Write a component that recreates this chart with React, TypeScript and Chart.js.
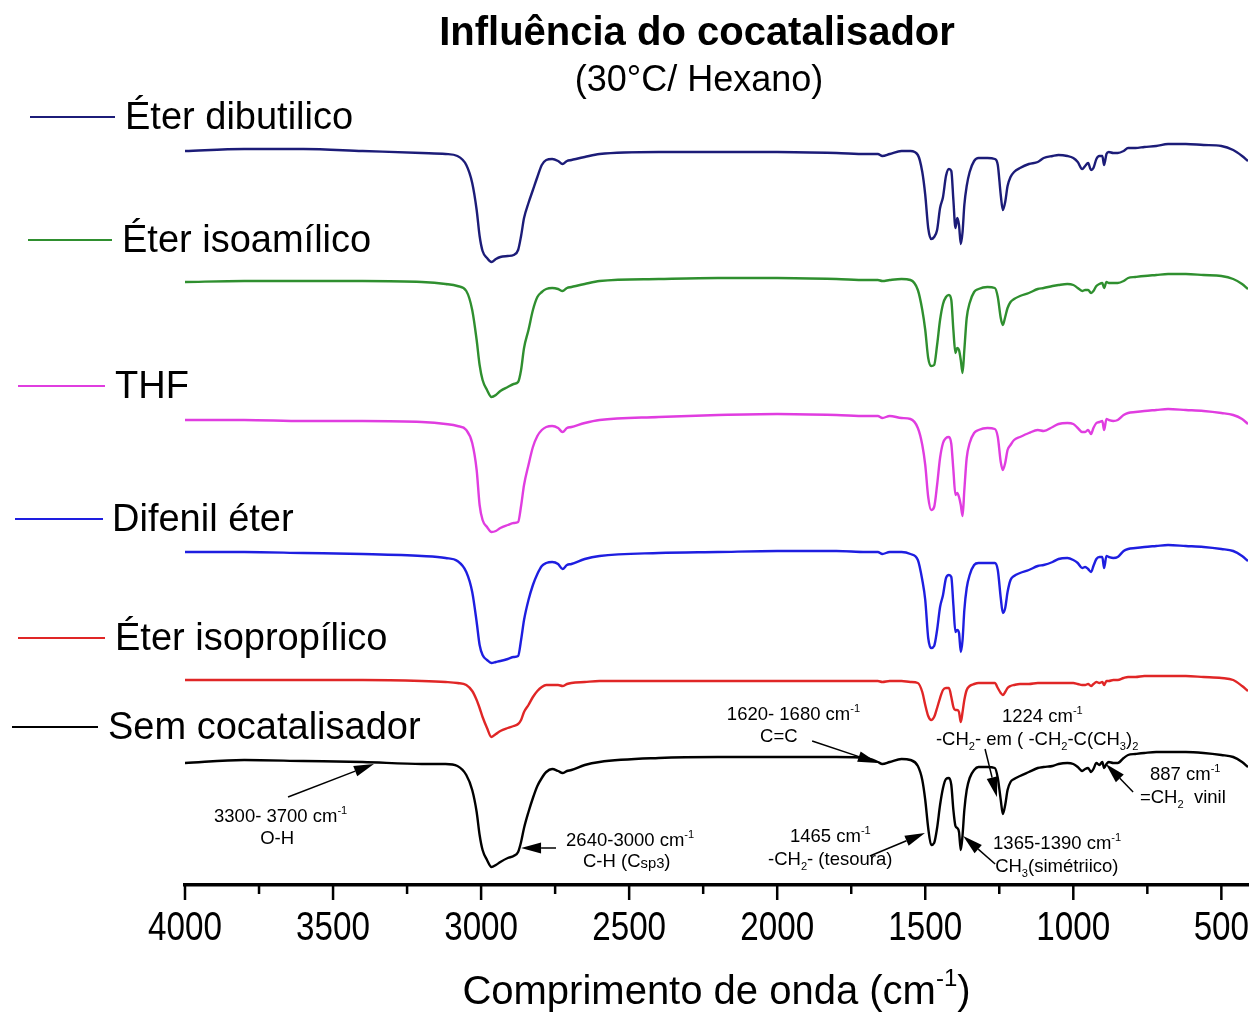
import { useEffect, useRef } from 'react';
import { Chart, registerables } from 'chart.js';

Chart.register(...registerables);

const TITLE = 'Influência do cocatalisador';
const SUBTITLE = '(30°C/ Hexano)';
const X_TITLE = 'Comprimento de onda (cm^{-1})';

const X_MIN = 410;
const X_MAX = 4000;
const X_STEP = 250;
const X_LABEL_STEP = 500;

// wavenumbers (cm-1)
const WAVENUMBERS = [
  4000, 3800, 3600, 3400, 3200, 3120, 3080, 3050, 3030, 3015, 3005, 2995, 2980, 2965, 2950, 2935, 2910, 2890, 2875, 2865,
  2855, 2840, 2825, 2810, 2795, 2780, 2760, 2740, 2725, 2710, 2695, 2650, 2600, 2400, 2200, 2000, 1800, 1700, 1660, 1645,
  1620, 1580, 1550, 1525, 1510, 1500, 1490, 1480, 1470, 1460, 1450, 1440, 1430, 1420, 1412, 1405, 1398, 1392, 1386, 1380,
  1374, 1368, 1360, 1350, 1335, 1320, 1290, 1265, 1255, 1245, 1238, 1230, 1222, 1212, 1200, 1180, 1150, 1120, 1100, 1070,
  1050, 1020, 1000, 985, 970, 960, 950, 940, 932, 922, 912, 902, 896, 888, 880, 865, 850, 830, 815, 790,
  760, 720, 680, 620, 560, 500, 460, 430, 410,
];

// stacked transmittance (a.u., offset per trace)
const ETER_DIBUTILICO = [
  734, 736, 736, 734, 732, 731, 729, 720, 702, 675, 649, 634, 627, 623, 626, 628, 629, 630, 635, 649,
  667, 682, 695, 708, 720, 725, 726, 724, 721, 724, 725, 728, 731, 733, 733, 733, 732, 731, 731, 729,
  731, 734, 734, 730, 713, 690, 657, 646, 648, 655, 677, 688, 709, 716, 714, 685, 657, 667, 660, 641,
  653, 680, 699, 713, 724, 727, 727, 726, 720, 690, 675, 683, 699, 708, 713, 717, 721, 723, 727, 729,
  730, 729, 727, 723, 716, 719, 722, 715, 717, 726, 729, 729, 720, 731, 733, 732, 732, 734, 737, 737,
  738, 739, 741, 741, 740, 739, 735, 729, 724,
];

const ETER_ISOAMILICO = [
  603, 604, 604, 604, 603, 601, 599, 594, 575, 545, 520, 505, 495, 488, 490, 494, 498, 501, 503, 515,
  537, 555, 575, 588, 593, 596, 597, 596, 594, 597, 598, 601, 604, 606, 607, 607, 606, 605, 605, 604,
  605, 606, 605, 595, 575, 555, 527, 519, 520, 540, 565, 581, 588, 590, 585, 555, 532, 537, 535, 525,
  512, 535, 567, 582, 593, 596, 598, 597, 588, 567, 560, 568, 577, 583, 586, 589, 592, 596, 597, 599,
  600, 601, 600, 597, 594, 595, 595, 592, 594, 599, 601, 602, 597, 603, 602, 602, 602, 604, 607, 608,
  609, 610, 611, 611, 610, 609, 606, 601, 596,
];

const THF = [
  465, 465, 464, 464, 463, 461, 459, 455, 442, 415, 380, 365, 358, 353, 354, 357, 360, 362, 363, 379,
  400, 420, 438, 449, 455, 458, 459, 457, 453, 457, 458, 462, 465, 468, 470, 471, 470, 469, 469, 467,
  469, 467, 466, 457, 440, 420, 388, 375, 378, 400, 427, 442, 447, 448, 441, 415, 390, 392, 388, 380,
  369, 395, 427, 442, 452, 455, 457, 456, 448, 423, 415, 422, 435, 440, 445, 448, 452, 455, 454, 458,
  461, 462, 461, 457, 453, 453, 455, 451, 457, 462, 463, 464, 455, 466, 465, 464, 465, 470, 472, 473,
  474, 475, 476, 475, 474, 472, 470, 466, 461,
];

const DIFENIL_ETER = [
  333, 333, 332, 331, 329, 327, 324, 313, 293, 263, 240, 230, 225, 222, 223, 224, 226, 228, 229, 245,
  265, 285, 300, 311, 319, 322, 323, 321, 316, 320, 321, 326, 329, 332, 333, 334, 334, 333, 333, 331,
  333, 333, 331, 325, 305, 285, 247, 237, 239, 255, 278, 290, 307, 310, 308, 280, 253, 255, 252, 233,
  245, 275, 297, 310, 320, 322, 322, 322, 315, 287, 272, 277, 293, 305, 309, 312, 315, 319, 320, 323,
  326, 327, 325, 322, 317, 318, 316, 313, 319, 326, 328, 328, 317, 329, 328, 327, 328, 334, 336, 337,
  338, 339, 340, 339, 338, 336, 334, 329, 324,
];

const ETER_ISOPROPILICO = [
  205, 205, 205, 205, 204, 203, 202, 200, 194, 185, 177, 168, 157, 148, 151, 154, 157, 159, 161, 165,
  173, 180, 188, 194, 198, 200, 200, 200, 199, 201, 202, 203, 204, 204, 204, 204, 204, 204, 204, 203,
  204, 204, 203, 202, 193, 180, 169, 165, 168, 177, 187, 195, 197, 197, 188, 178, 175, 175, 173, 163,
  173, 185, 195, 199, 201, 202, 202, 202, 197, 192, 190, 193, 197, 199, 200, 201, 201, 202, 202, 202,
  202, 202, 202, 201, 200, 200, 201, 199, 201, 203, 202, 203, 200, 204, 204, 205, 205, 207, 208, 208,
  209, 209, 209, 209, 208, 207, 205, 199, 194,
];

const SEM_COCATALISADOR = [
  122, 125, 124, 123, 121, 121, 119, 110, 95, 73, 50, 35, 25, 18, 20, 23, 27, 29, 33, 43,
  57, 73, 87, 99, 107, 113, 116, 114, 112, 114, 115, 120, 123, 127, 128, 128, 128, 127, 123, 121,
  123, 126, 125, 119, 105, 85, 57, 40, 42, 57, 80, 97, 106, 107, 100, 75, 59, 57, 53, 35,
  50, 75, 95, 107, 115, 118, 118, 117, 107, 85, 71, 80, 95, 103, 106, 109, 113, 117, 118, 119,
  121, 122, 121, 118, 114, 116, 117, 113, 116, 122, 120, 123, 117, 121, 123, 122, 122, 127, 130, 131,
  132, 133, 133, 133, 132, 130, 128, 123, 118,
];

const SERIES_LABELS = ['Éter dibutilico', 'Éter isoamílico', 'THF', 'Difenil éter', 'Éter isopropílico', 'Sem cocatalisador'];
const SERIES_VALUES = [ETER_DIBUTILICO, ETER_ISOAMILICO, THF, DIFENIL_ETER, ETER_ISOPROPILICO, SEM_COCATALISADOR];
const SERIES_COLORS = ['#1c1c78', '#2f8f2f', '#e03de0', '#1e1ee0', '#e02626', '#000000'];

// left-side labels (canvas px): line x0, x1, y, text x
const LABEL_LAYOUT = [
  [30, 115, 117, 125],
  [28, 112, 240, 122],
  [18, 105, 386, 115],
  [15, 103, 519, 112],
  [18, 105, 638, 115],
  [12, 98, 727, 108],
];

// annotations in data coordinates (wavenumber, a.u.)
const NOTE_TEXTS: [string, number, number, CanvasTextAlign][] = [
  ['3300- 3700 cm^{-1}', 3902, 63, 'left'],
  ['O-H', 3689, 41, 'center'],
  ['2640-3000 cm^{-1}', 2713, 39, 'left'],
  ['C-H (C~{sp3})', 2656, 18, 'left'],
  ['1620- 1680 cm^{-1}', 2170, 165, 'left'],
  ['C=C', 2058, 143, 'left'],
  ['1224 cm^{-1}', 1241, 163, 'left'],
  ['-CH_{2}- em ( -CH_{2}-C(CH_{3})_{2}', 1464, 140, 'left'],
  ['887 cm^{-1}', 741, 105, 'left'],
  ['=CH_{2}  vinil', 775, 82, 'left'],
  ['1465 cm^{-1}', 1957, 43, 'left'],
  ['-CH_{2}- (tesoura)', 2031, 20, 'left'],
  ['1365-1390 cm^{-1}', 1271, 36, 'left'],
  ['CH_{3}(simétriico)', 1264, 13, 'left'],
];

const NOTE_ARROWS = [
  [3652, 88, 3362, 121],
  [2747, 37, 2865, 37],
  [1882, 144, 1660, 122],
  [1298, 136, 1258, 88],
  [798, 93, 890, 121],
  [1687, 29, 1501, 52],
  [1264, 21, 1372, 49],
];

const FONT = '"Liberation Sans", Arial, Helvetica, sans-serif';

type Part = { t: string; k: 'n' | 'sup' | 'sub' | 'small' };

function parseRich(s: string): Part[] {
  const parts: Part[] = [];
  const re = /(\^\{([^}]*)\}|_\{([^}]*)\}|~\{([^}]*)\})/g;
  let last = 0;
  let m: RegExpExecArray | null;
  while ((m = re.exec(s))) {
    if (m.index > last) parts.push({ t: s.slice(last, m.index), k: 'n' });
    if (m[2] !== undefined) parts.push({ t: m[2], k: 'sup' });
    else if (m[3] !== undefined) parts.push({ t: m[3], k: 'sub' });
    else parts.push({ t: m[4], k: 'small' });
    last = re.lastIndex;
  }
  if (last < s.length) parts.push({ t: s.slice(last), k: 'n' });
  return parts;
}

function drawRich(ctx: CanvasRenderingContext2D, s: string, x: number, y: number, size: number, align: CanvasTextAlign, weight = 'normal') {
  const parts = parseRich(s);
  const fontFor = (k: string) => {
    const sz = k === 'n' ? size : k === 'small' ? size * 0.8 : size * 0.6;
    return `${weight} ${sz}px ${FONT}`;
  };
  let total = 0;
  for (const p of parts) {
    ctx.font = fontFor(p.k);
    total += ctx.measureText(p.t).width;
  }
  let cx = align === 'center' ? x - total / 2 : align === 'right' ? x - total : x;
  ctx.textAlign = 'left';
  ctx.textBaseline = 'alphabetic';
  for (const p of parts) {
    ctx.font = fontFor(p.k);
    const dy = p.k === 'sup' ? -size * 0.45 : p.k === 'sub' ? size * 0.25 : p.k === 'small' ? size * 0.08 : 0;
    ctx.fillText(p.t, cx, y + dy);
    cx += ctx.measureText(p.t).width;
  }
}

function drawArrow(ctx: CanvasRenderingContext2D, x1: number, y1: number, x2: number, y2: number) {
  const ang = Math.atan2(y2 - y1, x2 - x1);
  const L = 20;
  const W = 5.5;
  const bx = x2 - L * Math.cos(ang);
  const by = y2 - L * Math.sin(ang);
  ctx.beginPath();
  ctx.moveTo(x1, y1);
  ctx.lineTo(bx, by);
  ctx.stroke();
  ctx.beginPath();
  ctx.moveTo(x2, y2);
  ctx.lineTo(bx + W * Math.sin(ang), by - W * Math.cos(ang));
  ctx.lineTo(bx - W * Math.sin(ang), by + W * Math.cos(ang));
  ctx.closePath();
  ctx.fill();
}

const decorPlugin = {
  id: 'decor',
  afterDraw(chart: any) {
    const ctx: CanvasRenderingContext2D = chart.ctx;
    const xs = chart.scales.x;
    const ys = chart.scales.y;
    const area = chart.chartArea;
    ctx.save();
    ctx.fillStyle = '#000';
    ctx.strokeStyle = '#000';

    // titles
    ctx.textAlign = 'center';
    ctx.textBaseline = 'alphabetic';
    ctx.font = `bold 40px ${FONT}`;
    ctx.fillText(TITLE, 697, 45);
    ctx.font = `normal 36px ${FONT}`;
    ctx.fillText(SUBTITLE, 699, 91);

    // x axis tick marks (major / minor) and condensed tick labels from the scale's ticks
    ctx.lineWidth = 2.5;
    for (const t of xs.ticks) {
      const px = xs.getPixelForValue(t.value);
      const major = t.value % X_LABEL_STEP === 0;
      ctx.beginPath();
      ctx.moveTo(px, area.bottom);
      ctx.lineTo(px, area.bottom + (major ? 15 : 9));
      ctx.stroke();
      if (major) {
        ctx.save();
        ctx.translate(px, 940);
        ctx.scale(0.83, 1);
        ctx.font = `normal 40px ${FONT}`;
        ctx.textAlign = 'center';
        ctx.textBaseline = 'alphabetic';
        ctx.fillText(String(t.value), 0, 0);
        ctx.restore();
      }
    }

    // x axis title
    drawRich(ctx, X_TITLE, (area.left + area.right) / 2, 1004, 40, 'center');

    // series labels
    SERIES_LABELS.forEach((label, i) => {
      const [x0, x1, y, tx] = LABEL_LAYOUT[i];
      ctx.strokeStyle = SERIES_COLORS[i];
      ctx.lineWidth = 2;
      ctx.beginPath();
      ctx.moveTo(x0, y);
      ctx.lineTo(x1, y);
      ctx.stroke();
      ctx.fillStyle = '#000';
      ctx.font = `normal 38px ${FONT}`;
      ctx.textAlign = 'left';
      ctx.textBaseline = 'alphabetic';
      ctx.fillText(label, tx, y + 12);
    });

    // annotations
    ctx.fillStyle = '#000';
    ctx.strokeStyle = '#000';
    for (const [txt, wx, v, al] of NOTE_TEXTS) {
      drawRich(ctx, txt, xs.getPixelForValue(wx), ys.getPixelForValue(v), 18.5, al);
    }
    ctx.lineWidth = 1.5;
    for (const [wx1, v1, wx2, v2] of NOTE_ARROWS) {
      drawArrow(ctx, xs.getPixelForValue(wx1), ys.getPixelForValue(v1), xs.getPixelForValue(wx2), ys.getPixelForValue(v2));
    }
    ctx.restore();
  },
};

export default function App() {
  const canvasRef = useRef<HTMLCanvasElement | null>(null);

  useEffect(() => {
    if (!canvasRef.current) return;
    const datasets = SERIES_VALUES.map((vals, i) => ({
      label: SERIES_LABELS[i],
      data: WAVENUMBERS.map((w, j) => ({ x: w, y: vals[j] })),
      borderColor: SERIES_COLORS[i],
      backgroundColor: SERIES_COLORS[i],
      borderWidth: 2.4,
      pointRadius: 0,
      fill: false,
      tension: 0.4,
      cubicInterpolationMode: 'monotone' as const,
    }));
    const chart = new Chart(canvasRef.current, {
      type: 'line',
      data: { datasets },
      options: {
        animation: false,
        responsive: false,
        layout: { padding: { left: 185, right: 6, top: 85, bottom: 0 } },
        plugins: { legend: { display: false }, tooltip: { enabled: false }, title: { display: false } },
        scales: {
          x: {
            type: 'linear',
            reverse: true,
            min: X_MIN,
            max: X_MAX,
            afterFit: (s: any) => {
              s.height = 129;
            },
            grid: { display: false, drawTicks: false },
            border: { display: true, color: '#000', width: 3.5 },
            ticks: {
              display: false,
              stepSize: X_STEP,
              includeBounds: false,
              autoSkip: false,
              maxRotation: 0,
            },
          },
          y: { display: false, min: 0, max: 800 },
        },
      },
      plugins: [decorPlugin],
    });
    return () => chart.destroy();
  }, []);

  return (
    <div style={{ position: 'fixed', left: 0, top: 0, width: 1254, height: 1014, background: '#fff' }}>
      <canvas ref={canvasRef} width={1254} height={1014} />
    </div>
  );
}
